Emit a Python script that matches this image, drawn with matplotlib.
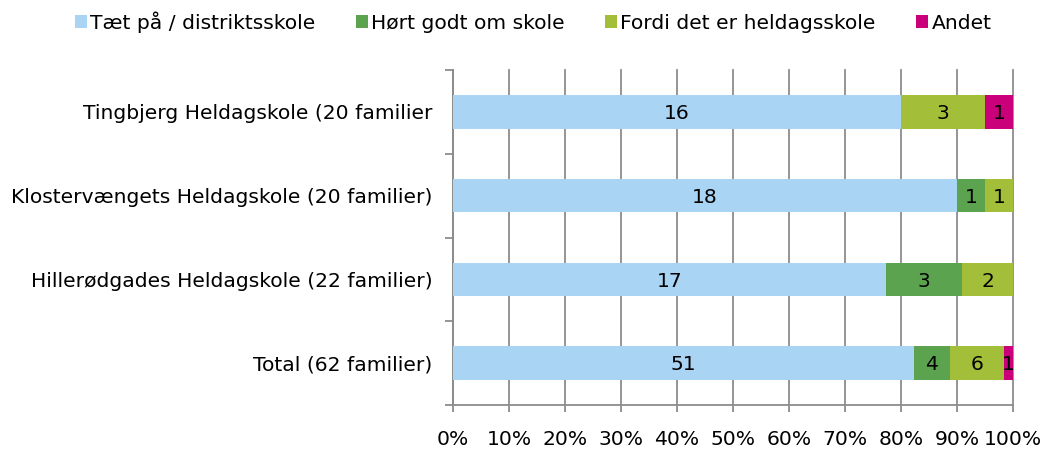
import matplotlib
matplotlib.use("Agg")
import matplotlib.pyplot as plt
import numpy as np
from matplotlib.patches import Patch
from matplotlib.ticker import FixedLocator

categories = ["Tingbjerg Heldagskole (20 familier",
              "Klostervængets Heldagskole (20 familier)",
              "Hillerødgades Heldagskole (22 familier)",
              "Total (62 familier)"]
series_names = ["Tæt på / distriktsskole", "Hørt godt om skole",
                "Fordi det er heldagsskole", "Andet"]
taet = [16, 18, 17, 51]
hoert = [0, 1, 3, 4]
fordi = [3, 1, 2, 6]
andet = [1, 0, 0, 1]
colors = ["#A9D4F4", "#5BA34F", "#A3BE38", "#C9007A"]
xtick_labels = ["0%", "10%", "20%", "30%", "40%", "50%", "60%", "70%", "80%", "90%", "100%"]

FS = 14.6
plt.rcParams['font.family'] = ['DejaVu Sans']
fig = plt.figure(figsize=(10.46, 4.49), dpi=100)
ax = fig.add_axes([453/1046, 1-405/449, (1013-453)/1046, (405-70)/449])

series = [taet, hoert, fordi, andet]
totals = np.array(taet) + np.array(hoert) + np.array(fordi) + np.array(andet)
y = np.arange(len(categories))[::-1]
left = np.zeros(len(categories))
for vals, col in zip(series, colors):
    vals = np.array(vals, dtype=float)
    frac = vals / totals
    ax.barh(y, frac, left=left, height=0.4, color=col, edgecolor='none', zorder=3)
    for yi, l, f, v in zip(y, left, frac, vals):
        if v > 0:
            ax.text(l + f/2, yi - 0.02, f"{int(v)}", ha='center', va='center',
                    fontsize=FS, color='black', zorder=4)
    left = left + frac

ax.set_xlim(0, 1)
ax.set_ylim(-0.5, len(categories) - 0.5)
ax.set_xticks(np.linspace(0, 1, 11))
ax.set_xticklabels(xtick_labels, fontsize=FS)
ax.xaxis.grid(True, color='#8c8c8c', linewidth=1.3, zorder=0)
for gl in ax.get_xgridlines():
    gl.set_clip_on(False)
ax.set_yticks(y)
ax.set_yticklabels(categories, fontsize=FS)
ax.yaxis.set_minor_locator(FixedLocator(np.arange(-0.5, len(categories), 1)))
ax.tick_params(axis='y', which='major', length=0, pad=15)
ax.tick_params(axis='y', which='minor', length=6, color='#8c8c8c', width=1.3)
ax.tick_params(axis='x', length=5, color='#8c8c8c', width=1.3, pad=13)
for s in ['top', 'right']:
    ax.spines[s].set_visible(False)
for s in ['left', 'bottom']:
    ax.spines[s].set_color('#8c8c8c')
    ax.spines[s].set_linewidth(1.3)

handles = [Patch(facecolor=c, edgecolor='none') for c in colors]
fig.legend(handles, series_names, loc='center', bbox_to_anchor=(533/1046, 1-22/449),
           ncol=4, frameon=False, fontsize=FS, handlelength=0.6, handleheight=0.6,
           handletextpad=0.15, columnspacing=2.0)

fig.savefig("out.png", dpi=100)
